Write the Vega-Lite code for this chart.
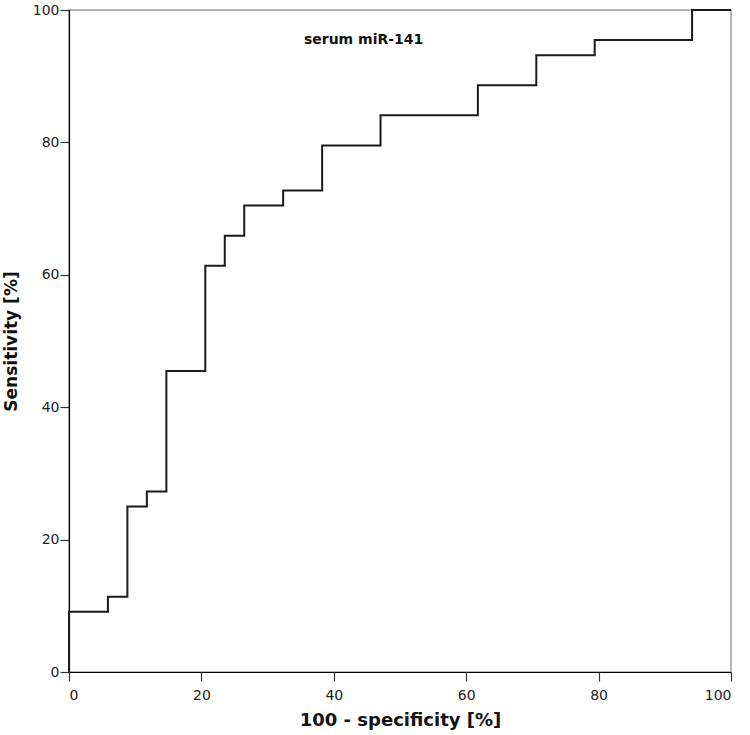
{
  "$schema": "https://vega.github.io/schema/vega-lite/v6.json",
  "autosize": {"type": "none"},
  "width": 662,
  "height": 662,
  "padding": {"left": 69, "top": 10, "right": 19, "bottom": 63},
  "background": "white",
  "config": {
    "view": {"stroke": "#9a9a9a", "strokeWidth": 1.5},
    "axis": {
      "grid": false,
      "ticks": true,
      "domainColor": "#000000",
      "domainWidth": 1.2,
      "tickColor": "#333333",
      "tickSize": 9,
      "tickWidth": 1.2,
      "labelFont": "DejaVu Sans",
      "labelFontSize": 14,
      "labelColor": "#222222",
      "titleFont": "DejaVu Sans",
      "titleFontWeight": "bold",
      "titleColor": "#111111"
    }
  },
  "layer": [
    {
      "data": {
        "values": [
          {"i": 0, "fpr": 0, "tpr": 0},
          {"i": 1, "fpr": 0, "tpr": 9.09},
          {"i": 2, "fpr": 5.88, "tpr": 11.36},
          {"i": 3, "fpr": 8.82, "tpr": 25.0},
          {"i": 4, "fpr": 11.76, "tpr": 27.27},
          {"i": 5, "fpr": 14.71, "tpr": 45.45},
          {"i": 6, "fpr": 20.59, "tpr": 61.36},
          {"i": 7, "fpr": 23.53, "tpr": 65.91},
          {"i": 8, "fpr": 26.47, "tpr": 70.45},
          {"i": 9, "fpr": 32.35, "tpr": 72.73},
          {"i": 10, "fpr": 38.24, "tpr": 79.55},
          {"i": 11, "fpr": 47.06, "tpr": 84.09},
          {"i": 12, "fpr": 61.76, "tpr": 88.64},
          {"i": 13, "fpr": 70.59, "tpr": 93.18},
          {"i": 14, "fpr": 79.41, "tpr": 95.45},
          {"i": 15, "fpr": 94.12, "tpr": 100},
          {"i": 16, "fpr": 100, "tpr": 100}
        ]
      },
      "mark": {"type": "line", "interpolate": "step-after", "color": "#1a1a1a", "strokeWidth": 2, "clip": false},
      "encoding": {
        "x": {
          "field": "fpr", "type": "quantitative",
          "scale": {"domain": [0, 100], "nice": false},
          "axis": {"values": [0, 20, 40, 60, 80, 100], "title": "100 - specificity [%]", "titleFontSize": 18, "labelPadding": 7, "titlePadding": 9}
        },
        "y": {
          "field": "tpr", "type": "quantitative",
          "scale": {"domain": [0, 100], "nice": false},
          "axis": {"values": [0, 20, 40, 60, 80, 100], "title": "Sensitivity [%]", "titleFontSize": 17, "labelPadding": 1, "titlePadding": 12}
        },
        "order": {"field": "i", "type": "quantitative"}
      }
    },
    {
      "data": {"values": [{"label": "serum miR-141", "fx": 44.5, "fy": 95.4}]},
      "mark": {"type": "text", "font": "DejaVu Sans", "fontSize": 14, "fontWeight": "bold", "color": "#111111", "align": "center", "baseline": "middle"},
      "encoding": {
        "x": {"field": "fx", "type": "quantitative"},
        "y": {"field": "fy", "type": "quantitative"},
        "text": {"field": "label"}
      }
    }
  ]
}
